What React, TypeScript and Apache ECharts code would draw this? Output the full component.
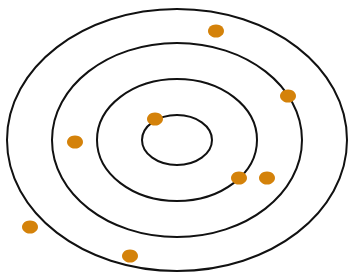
import React, { useEffect, useRef } from "react";
import * as echarts from "echarts";

// Target rings: horizontal and vertical radii (data units, centre at 0,0)
const ringRadiusX = [35, 80, 125, 170];
const ringRadiusY = [25, 61, 97, 131];

// Shots (x, y) relative to target centre
const shotX = [39, 111, -22, -102, 62, 90, -147, -47];
const shotY = [109, 44, 21, -2, -38, -38, -87, -116];

export default function App() {
  const ref = useRef<HTMLDivElement>(null);
  useEffect(() => {
    if (!ref.current) return;
    const chart = echarts.init(ref.current, null, { renderer: "svg" });
    const rings = ringRadiusX.map((rx, i) => [rx, ringRadiusY[i]]);
    const shots = shotX.map((x, i) => [x, shotY[i]]);
    chart.setOption({
      animation: false,
      backgroundColor: "#ffffff",
      grid: { left: 0, right: 0, top: 0, bottom: 0 },
      xAxis: { type: "value", min: -177, max: 173, show: false },
      yAxis: { type: "value", min: -133, max: 140, show: false },
      series: [
        {
          type: "custom",
          data: rings,
          z: 1,
          renderItem: (params: any, api: any) => {
            const c = api.coord([0, 0]);
            const rx = api.size([api.value(0), 0])[0];
            const ry = api.size([0, api.value(1)])[1];
            return {
              type: "ellipse",
              shape: { cx: c[0], cy: c[1], rx, ry },
              style: { fill: "none", stroke: "#111111", lineWidth: 2 },
            };
          },
        },
        {
          type: "scatter",
          data: shots,
          z: 5,
          symbol: "circle",
          symbolSize: [16, 13],
          itemStyle: { color: "#d4820a", opacity: 1 },
        },
      ],
    });
    return () => chart.dispose();
  }, []);
  return (
    <div
      ref={ref}
      style={{ position: "fixed", left: 0, top: 0, width: 350, height: 273 }}
    />
  );
}
